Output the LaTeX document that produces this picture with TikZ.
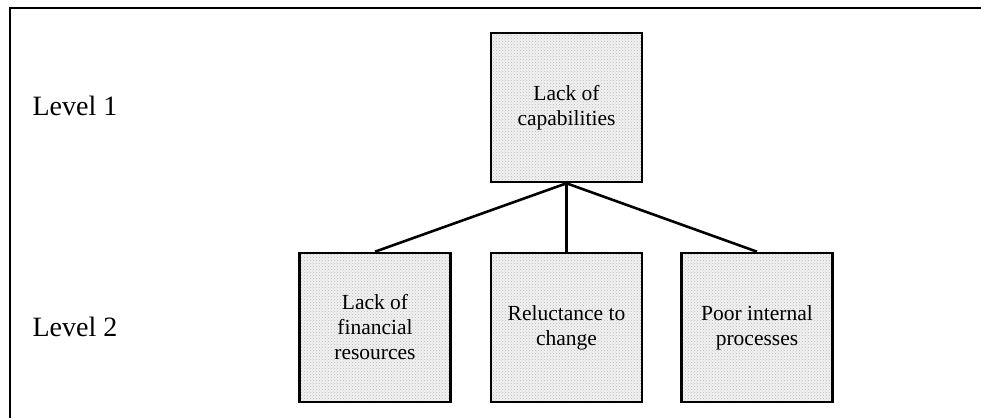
\documentclass[tikz,border=0pt]{standalone}
\usepackage{fontspec}
\setmainfont{Liberation Serif}
\usepackage{tikz}
\usetikzlibrary{patterns, positioning}

\begin{document}
\begin{tikzpicture}[x=1pt, y=-1pt,
  cause/.style={draw, line width=2.6pt, minimum width=151pt, minimum height=149pt,
    inner sep=0pt, align=center, font=\fontsize{21.5}{25}\selectfont,
    preaction={fill=gray!10}, pattern=crosshatch dots, pattern color=gray!55},
  level/.style={anchor=west, font=\fontsize{28}{32}\selectfont},
  link/.style={line width=2.6pt}]
\useasboundingbox (0,0) rectangle (981,418);
% frame
\draw[line width=2.4pt] (10,418) -- (10,8) -- (981,8);

% levels
\node[level] (lvl1) at (29,106) {Level 1};
\node[level] (lvl2) at (29,327) {Level 2};

% boxes
\node[cause] (top) at (566.5,107.5) {Lack of\\capabilities};
\node[cause] (mid) at (566.5,327.5) {Reluctance to\\change};
\node[cause] (lft) at (375,327.5) {Lack of\\financial\\resources};
\node[cause] (rgt) at (757,327.5) {Poor internal\\processes};

% links
\draw[link] (top.south) -- (lft.north);
\draw[link] (top.south) -- (mid.north);
\draw[link] (top.south) -- (rgt.north);
\end{tikzpicture}
\end{document}
